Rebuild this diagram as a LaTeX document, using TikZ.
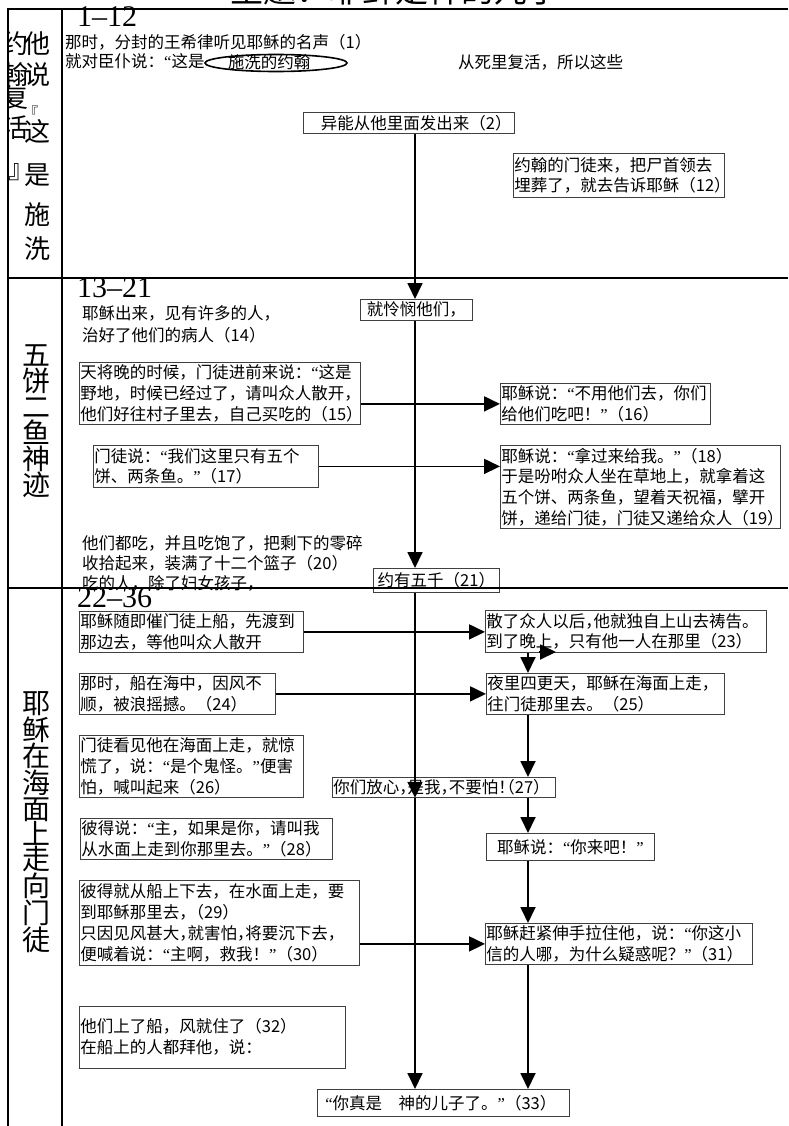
\documentclass[tikz,border=0pt]{standalone}
\usepackage{fontspec}
\setmainfont{Noto Sans CJK SC}
\newfontfamily\numfont{Liberation Serif}
\newfontfamily\halffont[RawFeature=+halt]{Noto Sans CJK SC}
\newcommand{\lqmark}{{\numfont “}}
\newcommand{\rqmark}{{\numfont ”}}
\usetikzlibrary{arrows.meta}

\begin{document}
\begin{tikzpicture}[x=1pt,y=-1pt]
    \tikzstyle{textBox}=[draw=black!75, line width=0.8pt, anchor=north west, inner xsep=1pt, inner ysep=0pt, align=left, font=\fontsize{16.5}{20.7}\selectfont]
    \tikzstyle{plainText}=[anchor=west, inner sep=0pt, align=left, font=\fontsize{16.5}{20.7}\selectfont]
    \tikzstyle{flowArrow}=[-{Triangle[length=16pt,width=15pt]}, line width=1.8pt]
    \tikzstyle{frameLine}=[line width=2.6pt]
    \tikzstyle{labelChar}=[inner sep=0pt, font=\fontsize{26}{26}\selectfont]
    \tikzstyle{sectionNum}=[anchor=base west, inner sep=0pt, font=\numfont\fontsize{30}{30}\selectfont]
    \useasboundingbox (0,0) rectangle (788,1126);

    \node[anchor=base, inner sep=0pt, font=\fontsize{33}{33}\selectfont] (title) at (395,3) {主题：耶稣是神的儿子};

    \node[sectionNum] (sec1) at (77,27) {1–12};
    \node[sectionNum] (sec2) at (77,297) {13–21};
    \node[sectionNum] (sec3) at (77,607) {22–36};

    % labels of the three parts
    \begin{scope}
        \clip (8,9) rectangle (62,278);
        \foreach \ch/\yy in {约/44, 翰/75, 复/98, 活/128}
            \node[labelChar] (left\yy) at (15,\yy) {\ch};
        \node[labelChar] (closing) at (22,172) {』};
        \foreach \ch/\yy in {他/44, 说/75, 这/131, 是/175, 施/215, 洗/249}
            \node[labelChar] (right\yy) at (37,\yy) {\ch};
        \node[inner sep=0pt, font=\fontsize{14}{14}\selectfont] (opening) at (31,112) {『};
    \end{scope}
    \node[inner sep=0pt, align=center, font=\fontsize{28}{26}\selectfont] (label2) at (36,421) {五\\饼\\二\\鱼\\神\\迹};
    \node[inner sep=0pt, align=center, font=\fontsize{28}{25.4}\selectfont] (label3) at (36,822) {耶\\稣\\在\\海\\面\\上\\走\\向\\门\\徒};

    % 1-12
    \node[plainText] (t1) at (65,42) {那时，分封的王希律听见耶稣的名声（1）};
    \node[plainText] (t1b) at (65,61) {就对臣仆说：\lqmark 这是};
    \node[plainText, anchor=center] (john) at (269,62) {施洗的约翰};
    \draw[line width=1.6pt] (john.center) ++(7,1) ellipse [x radius=71, y radius=8.5];
    \node[plainText] (t1c) at (458,62) {从死里复活，所以这些};
    \node[textBox, text width=209pt, minimum height=21pt] (b2) at (303,112) {\hspace*{1em}异能从他里面发出来（2）};
    \node[textBox, text width=209pt, minimum height=44pt] (b12) at (513,153) {约翰的门徒来，把尸首领去\\埋葬了，就去告诉耶稣（12）};

    % 13-21
    \node[textBox, text width=110pt, minimum height=21pt, align=center] (b13) at (360,299) {就怜悯他们，};
    \node[plainText, font=\fontsize{16.5}{22}\selectfont] (t14) at (82,324) {耶稣出来，见有许多的人，\\治好了他们的病人（14）};
    \node[textBox, text width=279pt, minimum height=62pt] (b15) at (79,362) {天将晚的时候，门徒进前来说：\lqmark 这是\\野地，时候已经过了，请叫众人散开，\\他们好往村子里去，自己买吃的（15）};
    \node[textBox, text width=208pt, minimum height=41pt] (b16) at (500,383) {耶稣说：\lqmark 不用他们去，你们\\给他们吃吧！\rqmark（16）};
    \node[textBox, text width=223pt, minimum height=42pt] (b17) at (93,445) {门徒说：\lqmark 我们这里只有五个\\饼、两条鱼。\rqmark（17）};
    \node[textBox, text width=278pt, minimum height=83pt] (b18) at (500,445) {耶稣说：\lqmark 拿过来给我。\rqmark（18）\\于是吩咐众人坐在草地上，就拿着这\\五个饼、两条鱼，望着天祝福，擘开\\饼，递给门徒，门徒又递给众人（19）};
    \node[plainText, font=\fontsize{16.5}{20}\selectfont] (t20) at (82,563) {他们都吃，并且吃饱了，把剩下的零碎\\收拾起来，装满了十二个篮子（20）\\吃的人，除了妇女孩子，};
    \node[textBox, text width=124pt, minimum height=24pt, align=center] (b21) at (373,568) {约有五千（21）};

    % 22-36
    \node[textBox, text width=222pt, minimum height=41pt] (b22) at (79,611) {耶稣随即催门徒上船，先渡到\\那边去，等他叫众人散开};
    \node[textBox, text width=279pt, minimum height=42pt] (b23) at (485,610) {{\halffont 散了众人以后，他就独自上山去祷告。}\\到了晚上，只有他一人在那里（23）};
    \node[textBox, text width=194pt, minimum height=41pt] (b24) at (79,673) {那时，船在海中，因风不\\顺，被浪摇撼。（24）};
    \node[textBox, text width=236pt, minimum height=41pt] (b25) at (486,673) {夜里四更天，耶稣在海面上走，\\往门徒那里去。（25）};
    \node[textBox, text width=222pt, minimum height=62pt] (b26) at (79,735) {门徒看见他在海面上走，就惊\\慌了，说：\lqmark 是个鬼怪。\rqmark 便害\\怕，喊叫起来（26）};
    \node[textBox, text width=221pt, minimum height=20pt] (b27) at (332,777) {{\halffont 你们放心，是我，不要怕！（27）}};
    \node[textBox, text width=250pt, minimum height=41pt] (b28) at (80,818) {彼得说：\lqmark 主，如果是你，请叫我\\从水面上走到你那里去。\rqmark（28）};
    \node[textBox, text width=166pt, minimum height=27pt, align=center] (bCome) at (486,833) {耶稣说：\lqmark 你来吧！\rqmark};
    \node[textBox, text width=278pt, minimum height=85pt] (b29) at (79,880) {彼得就从船上下去，在水面上走，要\\{\halffont 到耶稣那里去，}（29）\\{\halffont 只因见风甚大，就害怕，将要沉下去，}\\便喊着说：\lqmark 主啊，救我！\rqmark（30）};
    \node[textBox, text width=265pt, minimum height=41pt] (b31) at (485,923) {耶稣赶紧伸手拉住他，说：\lqmark 你这小\\信的人哪，为什么疑惑呢？\rqmark（31）};
    \node[textBox, text width=264pt, minimum height=62pt, text depth=24pt] (b32) at (79,1006) {他们上了船，风就住了（32）\\在船上的人都拜他，说：};
    \node[textBox, text width=250pt, minimum height=27pt] (b33) at (317,1089) {\hspace*{7pt}\lqmark 你真是　神的儿子了。\rqmark（33）};

    % frame
    \draw[frameLine] (788,9) -- (8,9) -- (8,1126);
    \draw[frameLine] (62,9) -- (62,1126);
    \draw[frameLine] (8,278) -- (788,278);
    \draw[frameLine] (8,588) -- (788,588);

    \coordinate (spine) at (415,0);
    \coordinate (rspine) at (528,0);
    \coordinate (strayTail) at (539,652);
    \coordinate (strayTip) at (556,652);

    \draw[flowArrow] (b2.south -| spine) -- (b13.north -| spine);
    \draw[flowArrow] (b13.south -| spine) -- (b21.north -| spine);
    \draw[flowArrow] (b21.south -| spine) -- (b27.south -| spine);
    \draw[flowArrow] (b27.south -| spine) -- (b33.north -| spine);

    \draw[flowArrow] (b15.east |- b16.west) -- (b16.west);
    \draw[flowArrow] (b17.east) -- (b17.east -| b18.west);
    \draw[flowArrow] (b22.east) -- (b22.east -| b23.west);
    \draw[flowArrow] (b24.east) -- (b24.east -| b25.west);
    \draw[flowArrow] (b29.east |- b31.west) -- (b31.west);

    \draw[flowArrow] (b23.south -| rspine) -- (b25.north -| rspine);
    \draw[flowArrow] (strayTail) -- (strayTip);
    \draw[flowArrow] (b25.south -| rspine) -- (b27.north -| rspine);
    \draw[flowArrow] (b27.south -| rspine) -- (bCome.north -| rspine);
    \draw[flowArrow] (bCome.south -| rspine) -- (b31.north -| rspine);
    \draw[flowArrow] (b31.south -| rspine) -- (b33.north -| rspine);
\end{tikzpicture}
\end{document}
